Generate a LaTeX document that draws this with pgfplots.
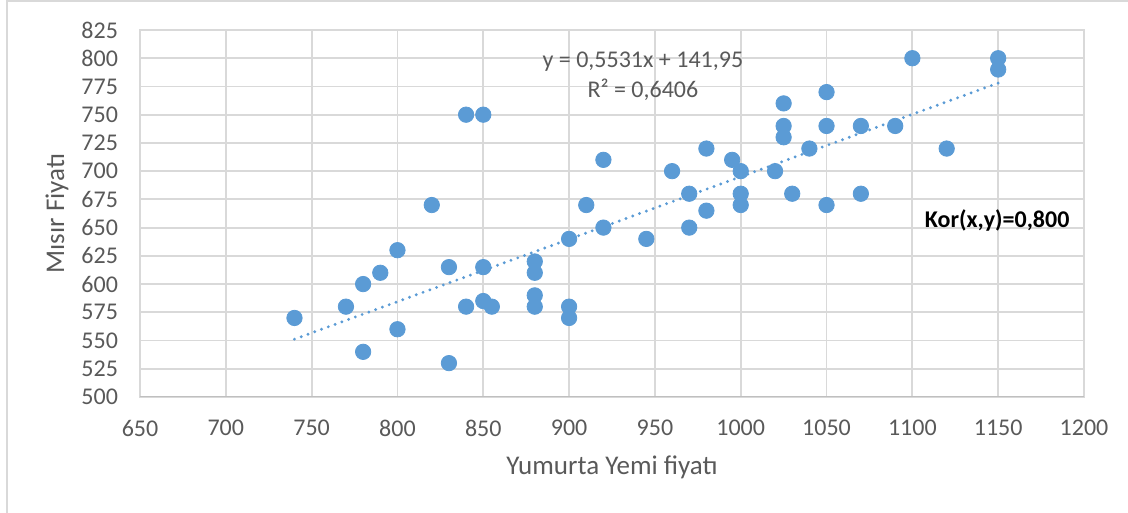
\documentclass[border=0pt]{standalone}
\usepackage{pgfplots}
\pgfplotsset{compat=1.18}
\usepackage{fontspec}
\setmainfont{Carlito}
\definecolor{ptblue}{HTML}{5B9BD5}
\definecolor{gridc}{HTML}{D9D9D9}
\definecolor{txt}{HTML}{595959}
\definecolor{axc}{HTML}{BFBFBF}
\begin{document}
\begin{tikzpicture}
\useasboundingbox (-70pt,-58pt) rectangle (494pt,198.5pt);
\draw[gridc, line width=0.8pt] (-66.5pt,-58pt) -- (-66.5pt,198pt) -- (494pt,198pt);
\begin{axis}[
  scale only axis, width=472pt, height=183.5pt,
  xmin=650, xmax=1200, ymin=500, ymax=825,
  xtick={650,700,...,1200}, ytick={500,525,...,825},
  grid=major, major grid style={gridc, line width=0.9pt},
  axis line style={gridc, line width=0.9pt},
  major tick length=0pt,
  tick label style={font=\fontsize{12}{14}\selectfont, text=txt},
  /pgf/number format/assume math mode=true,
  /pgf/number format/1000 sep={},
  xticklabel style={anchor=center, yshift=-15.5pt},
  yticklabel style={anchor=east, xshift=-7.5pt},
  xlabel={Yumurta Yemi fiyatı},
  ylabel={Mısır Fiyatı},
  label style={font=\fontsize{13.5}{15}\selectfont, text=txt},
  xlabel style={at={(rel axis cs:0.5,0)}, anchor=center, yshift=-35pt},
  ylabel style={at={(rel axis cs:0,0.5)}, anchor=center, yshift=41.5pt},
]
\draw[axc, line width=0.9pt] (rel axis cs:0,0) -- (rel axis cs:1,0);
\addplot[only marks, mark=*, mark size=3.85pt, mark options={fill=ptblue, draw=ptblue}] table {
x y
740 570
770 580
780 600
780 540
790 610
800 630
800 560
820 670
830 615
830 530
840 750
850 750
840 580
850 615
850 585
855 580
880 620
880 610
880 590
880 580
900 640
900 580
900 570
910 670
920 710
920 650
945 640
960 700
970 680
970 650
980 720
980 665
995 710
1000 700
1000 680
1000 670
1020 700
1025 760
1025 740
1025 730
1030 680
1040 720
1050 770
1050 740
1050 670
1070 740
1070 680
1090 740
1100 800
1120 720
1150 800
1150 790
};
\addplot[ptblue, line width=1.6pt, line cap=round, dash pattern=on 0pt off 3.6pt] coordinates {(740,551.24) (1150,778.02)};
\node[text=txt, font=\fontsize{12}{14}\selectfont] at (axis cs:943,796.7) {y = 0,5531x + 141,95};
\node[text=txt, font=\fontsize{12}{14}\selectfont] at (axis cs:943,771.8) {R² = 0,6406};
\node[text=black, font=\bfseries\fontsize{12}{14}\selectfont] at (axis cs:1149.4,655.9) {Kor(x,y)=0,800};
\end{axis}
\end{tikzpicture}
\end{document}
